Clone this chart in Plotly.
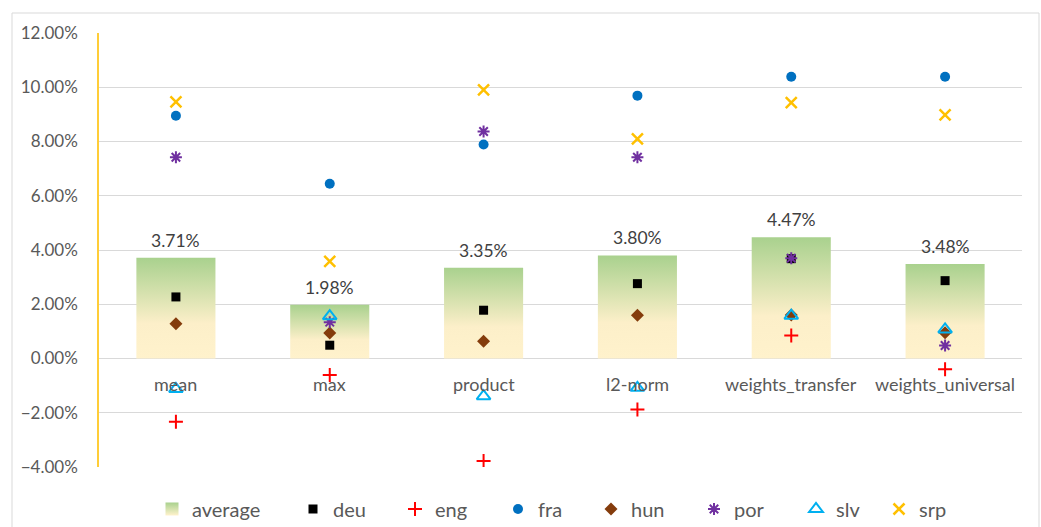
import plotly.graph_objects as go

categories = ["mean", "max", "product", "l2-norm", "weights_transfer", "weights_universal"]
average = [3.71, 1.98, 3.35, 3.80, 4.47, 3.48]
deu = [2.27, 0.49, 1.78, 2.76, 3.68, 2.87]
eng = [-2.33, -0.61, -3.78, -1.88, 0.85, -0.40]
fra = [8.95, 6.44, 7.89, 9.69, 10.39, 10.39]
hun = [1.28, 0.94, 0.64, 1.59, 1.60, 0.95]
por = [7.42, 1.34, 8.37, 7.42, 3.70, 0.48]
slv = [-1.12, 1.56, -1.39, -1.08, 1.58, 1.07]
srp = [9.46, 3.58, 9.90, 8.10, 9.43, 8.98]

FONT = "Lato"
GREEN, CREAM = "#a9d18e", "#fff2cc"
idx = list(range(len(categories)))
hw = 0.257  # half bar width in category units

L, R, T, B = 99, 19, 33, 60
W, H = 1041, 527
pw, ph = W - L - R, H - T - B

# legend text start positions (px, container) for each entry
legend_names = ["average", "deu", "eng", "fra", "hun", "por", "slv", "srp"]
legend_text_x = [193, 334, 436, 539, 632, 735, 837, 920]
legend_ids = ["legend"] + [f"legend{k}" for k in range(2, len(legend_names) + 1)]
lg = dict(zip(legend_names, legend_ids))

fig = go.Figure()

# gradient bars (average)
for i, a in zip(idx, average):
    fig.add_trace(go.Scatter(
        x=[i - hw, i + hw, i + hw, i - hw, i - hw],
        y=[0, 0, a, a, 0],
        mode="none", fill="toself",
        fillgradient=dict(type="vertical",
                          colorscale=[[0, CREAM], [0.35, "#fcefc9"], [1, GREEN]],
                          start=0, stop=a),
        name="average", legendgroup="average", showlegend=False,
        hoverinfo="skip",
    ))
# legend entry for the bars
fig.add_trace(go.Scatter(
    x=[None], y=[None], mode="markers", name="average", legendgroup="average",
    legend=lg["average"],
    marker=dict(symbol="square", size=13, color=GREEN,
                gradient=dict(type="vertical", color=CREAM)),
))

series = [
    ("deu", deu, dict(symbol="square", size=9, color="#000000")),
    ("eng", eng, dict(symbol="cross-thin", size=10, color="#ff0000", line=dict(color="#ff0000", width=2))),
    ("fra", fra, dict(symbol="circle", size=10, color="#0070c0")),
    ("hun", hun, dict(symbol="diamond", size=10, color="#843c0c")),
    ("por", por, dict(symbol="asterisk", size=10, color="#7030a0", line=dict(color="#7030a0", width=2))),
    ("slv", slv, dict(symbol="triangle-up-open", size=12, color="#00b0f0", line=dict(color="#00b0f0", width=2))),
    ("srp", srp, dict(symbol="x-thin", size=11, color="#ffc000", line=dict(color="#ffc000", width=2.5))),
]
for name, vals, mk in series:
    fig.add_trace(go.Scatter(x=idx, y=vals, mode="markers", name=name,
                             legend=lg[name], marker=mk))

annotations = []
for i, c in zip(idx, categories):
    annotations.append(dict(x=i, y=0, xref="x", yref="y", text=c, showarrow=False,
                            yanchor="top", yshift=-12,
                            font=dict(family=FONT, size=18, color="#595959")))
for i, a in zip(idx, average):
    annotations.append(dict(x=i, y=a, xref="x", yref="y", text=f"{a:.2f}%", showarrow=False,
                            yanchor="bottom", yshift=5,
                            font=dict(family=FONT, size=17.5, color="#404040")))

legend_layouts = {}
for lid, tx in zip(legend_ids, legend_text_x):
    legend_layouts[lid] = dict(
        orientation="h", xref="container", yref="container",
        x=(tx - 41) / W, xanchor="left",
        y=1 - 509 / H, yanchor="middle",
        font=dict(family=FONT, size=20, color="#595959"),
        bgcolor="rgba(0,0,0,0)", borderwidth=0,
    )

fig.update_layout(
    template="none",
    width=W, height=H,
    margin=dict(l=L, r=R, t=T, b=B, pad=0, autoexpand=False),
    paper_bgcolor="white", plot_bgcolor="white",
    font=dict(family=FONT, size=17, color="#595959"),
    xaxis=dict(range=[-0.5, 5.5], showgrid=False, showticklabels=False,
               zeroline=False, showline=False, fixedrange=True, automargin=False),
    yaxis=dict(range=[-4, 12], dtick=2, tickformat=".2f", ticksuffix="%",
               gridcolor="#d9d9d9", gridwidth=1,
               zeroline=True, zerolinecolor="#d9d9d9", zerolinewidth=1,
               showline=True, linecolor="#ffcd38", linewidth=1.5,
               ticks="", ticklabelstandoff=16, automargin=False, fixedrange=True,
               tickfont=dict(family=FONT, size=17, color="#595959")),
    annotations=annotations,
    shapes=[dict(type="rect", xref="paper", yref="paper",
                 x0=(12 - L) / pw, x1=(1039 - L) / pw,
                 y0=(H - B - 532) / ph, y1=(H - B - 13) / ph,
                 line=dict(color="#d9d9d9", width=1), fillcolor="rgba(0,0,0,0)",
                 layer="below")],
    showlegend=True,
    **legend_layouts,
)

fig.write_html("out.html", config={"displayModeBar": False},
               post_script="document.body.style.margin='0';")
